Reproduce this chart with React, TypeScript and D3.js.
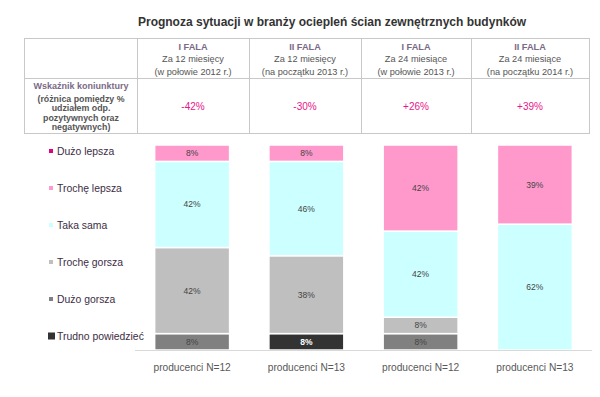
import React from "react";
import * as d3 from "d3";

const categories = ["producenci N=12", "producenci N=13", "producenci N=12 ", "producenci N=13 "];
const waveLabels = ["I FALA", "II FALA", "I FALA", "II FALA"];
const periodLabels = ["Za 12 miesięcy", "Za 12 miesięcy", "Za 24 miesiące", "Za 24 miesiące"];
const dateLabels = ["(w połowie 2012 r.)", "(na początku 2013 r.)", "(w połowie 2013 r.)", "(na początku 2014 r.)"];
const indexValues = ["-42%", "-30%", "+26%", "+39%"];
const rowLabelLines = ["(różnica pomiędzy %", "udziałem odp.", "pozytywnych oraz", "negatywnych)"];

const seriesNames = ["Dużo lepsza", "Trochę lepsza", "Taka sama", "Trochę gorsza", "Dużo gorsza", "Trudno powiedzieć"];
const duzoLepsza = [0, 0, 0, 0];
const trocheLepsza = [8, 8, 42, 39];
const takaSama = [42, 46, 42, 62];
const trocheGorsza = [42, 38, 8, 0];
const duzoGorsza = [8, 0, 8, 0];
const trudnoPowiedziec = [0, 8, 0, 0];
const seriesValues = [duzoLepsza, trocheLepsza, takaSama, trocheGorsza, duzoGorsza, trudnoPowiedziec];
const seriesColors = ["#e6007e", "#ff99cc", "#ccffff", "#bfbfbf", "#808080", "#333333"];

const W = 600;
const H = 397;
const FONT = "'Liberation Sans', Arial, sans-serif";

export default function App() {
  const stackKeys = seriesNames.slice().reverse();
  const rows = categories.map((c, i) => {
    const r: any = { cat: c };
    seriesNames.forEach((s, j) => (r[s] = seriesValues[j][i]));
    return r;
  });
  const stacked = d3.stack<any>().keys(stackKeys).offset(d3.stackOffsetExpand)(rows);

  const x = d3.scaleBand<string>().domain(categories).range([135, 592]).paddingInner(0.344).paddingOuter(0.172);
  const y = d3.scaleLinear().domain([0, 1]).range([350, 145]);

  const colEdges = [24, 137, 249, 361, 471, 589];
  const tTop = 38, tMid = 78, tBot = 133;

  const legendY = d3.scalePoint<string>().domain(seriesNames).range([151, 336]);

  return (
    <svg width={W} height={H} style={{ position: "absolute", left: 0, top: 0, background: "#fff" }} fontFamily={FONT}>
      <rect width={W} height={H} fill="#fff" />
      <text x={332} y={26} textAnchor="middle" fontSize={12} fontWeight="bold" fill="#333">
        Prognoza sytuacji w branży ociepleń ścian zewnętrznych budynków
      </text>

      <g stroke="#c8c8c8" strokeWidth={1} fill="none">
        <rect x={colEdges[0] + 0.5} y={tTop + 0.5} width={colEdges[5] - colEdges[0]} height={tBot - tTop} />
        <line x1={colEdges[0]} x2={colEdges[5]} y1={tMid + 0.5} y2={tMid + 0.5} />
        {colEdges.slice(1, 5).map((cx, i) => (
          <line key={i} x1={cx + 0.5} x2={cx + 0.5} y1={tTop} y2={tBot} />
        ))}
      </g>
      {waveLabels.map((w, i) => {
        const cx = (colEdges[i + 1] + colEdges[i + 2]) / 2;
        return (
          <g key={i} textAnchor="middle" fontSize={9.2}>
            <text x={cx} y={50} fill="#7a6a86" fontWeight="bold">{w}</text>
            <text x={cx} y={62} fill="#555">{periodLabels[i]}</text>
            <text x={cx} y={75} fill="#555">{dateLabels[i]}</text>
            <text x={cx} y={110} fill="#e8168a" fontSize={10}>{indexValues[i]}</text>
          </g>
        );
      })}
      <g textAnchor="middle" fontSize={8.8}>
        <text x={81} y={89} fill="#7a6a86" fontWeight="bold" fontSize={9}>Wskaźnik koniunktury</text>
        {rowLabelLines.map((l, i) => (
          <text key={i} x={81} y={[102, 111, 121, 130][i]} fill="#555" fontWeight="bold">{l}</text>
        ))}
      </g>

      {stacked.map((layer) => {
        const si = seriesNames.indexOf(layer.key);
        return (
          <g key={layer.key}>
            {layer.map((d, i) => {
              const v = seriesValues[si][i];
              if (!v) return null;
              const y0 = y(d[0]);
              const y1 = y(d[1]);
              const bx = x(categories[i])!;
              const bw = x.bandwidth();
              return (
                <g key={i}>
                  <rect x={bx} y={y1} width={bw} height={y0 - y1} fill={seriesColors[si]} stroke="#fff" strokeWidth={1.5} />
                  <text x={bx + bw / 2} y={(y0 + y1) / 2 + 3} textAnchor="middle" fontSize={8.5}
                    fill={si === 5 ? "#fff" : "#444"} fontWeight={si === 5 ? "bold" : "normal"}>
                    {v}%
                  </text>
                </g>
              );
            })}
          </g>
        );
      })}
      <line x1={135} x2={592} y1={350.5} y2={350.5} stroke="#d9d9d9" strokeWidth={1} />
      {categories.map((c, i) => (
        <text key={i} x={x(c)! + x.bandwidth() / 2} y={371} textAnchor="middle" fontSize={10.2} fill="#595959">
          {c.trim()}
        </text>
      ))}

      {seriesNames.map((s, i) => {
        const ly = legendY(s)!;
        const big = i === 5;
        const sz = big ? 7 : 4;
        return (
          <g key={s}>
            <rect x={big ? 48 : 49} y={ly - sz / 2} width={sz} height={sz} fill={seriesColors[i]} />
            <text x={57} y={ly + 4} fontSize={10.4} fill="#3d2d45">{s}</text>
          </g>
        );
      })}
    </svg>
  );
}
